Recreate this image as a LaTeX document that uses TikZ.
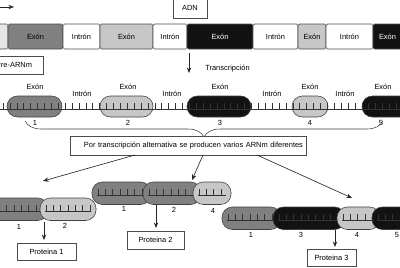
\documentclass[tikz,border=0pt]{standalone}
\usepackage{fontspec}
\setmainfont{Liberation Sans}
\usetikzlibrary{arrows.meta,decorations.pathreplacing,positioning}
\definecolor{exdark}{gray}{0.50}
\definecolor{exlight}{gray}{0.78}
\definecolor{expale}{gray}{0.90}
\definecolor{exblack}{gray}{0.07}

\begin{document}
\begin{tikzpicture}[
  x=0.25mm, y=-0.25mm,
  >={Stealth[length=1.4mm, width=1.1mm]},
  seg/.style  = {draw=black!70, line width=0.4pt, rounded corners=0.4mm},
  caps/.style = {draw=black!75, line width=0.4pt, rounded corners=2.6mm},
  tk/.style   = {black!80, line width=0.35pt},
  lbl/.style  = {font=\fontsize{5.3}{6}\selectfont, inner sep=0pt},
  tbox/.style = {draw=black!70, line width=0.4pt, fill=white, inner sep=0pt,
                 font=\fontsize{5.3}{6}\selectfont},
  arr/.style  = {->, line width=0.45pt, black!85},
]
\useasboundingbox (0,0) rectangle (400,267);
\clip (0,0) rectangle (400,267);

%% ---- ADN -----------------------------------------------------------------
\coordinate (inL) at (0,7);
\coordinate (inR) at (14,7);
\draw[arr] (inL) -- (inR);
\node[tbox, minimum width=8.5mm, minimum height=5mm] (adn) at (190,8) {ADN};
\foreach \a/\b/\c/\f/\t [count=\i] in {-10/8/expale/black/{}, 8/63/exdark/black/Exón,
    63/100/white/black/Intrón, 100/153/exlight/black/Exón, 153/187/white/black/Intrón,
    187/253/exblack/white/Exón, 253/298/white/black/Intrón, 298/326/exlight/black/Exón,
    326/373/white/black/Intrón, 373/402/exblack/white/Exón}
{
  \draw[seg, fill=\c] (\a,24) rectangle (\b,49);
  \node[lbl, text=\f] (dna\i) at ({(\a+\b)/2},36.5) {\t};
}

%% ---- pre-ARNm ------------------------------------------------------------
\node[tbox, minimum width=14.5mm, minimum height=4.5mm] (pre) at (14,65) {Pre-ARNm};
\coordinate (trA) at (189,53);
\coordinate (trB) at (189,73);
\draw[arr] (trA) -- (trB);
\node[lbl, anchor=west] (trlbl) at (205,69) {Transcripción};

\foreach \a/\b/\c in {7/62/exdark, 100/153/exlight, 187/251/exblack,
                      292/328/exlight, 362/420/exblack}
  \draw[caps, fill=\c] (\a,96) rectangle (\b,117);
\draw[tk] (0,109) -- (400,109);
\foreach \k in {0,...,57} \draw[tk] ({3+6.9*\k},103) -- ++(0,6);

\foreach \x/\y/\t [count=\i] in {35/87/Exón, 82/94/Intrón, 128/87/Exón, 172/94/Intrón,
    220/87/Exón, 272/94/Intrón, 310/87/Exón, 345/94/Intrón, 383/87/Exón}
  \node[lbl] (pl\i) at (\x,\y) {\t};
\foreach \x/\t [count=\i] in {35/1, 128/2, 220/3, 310/4, 381/5}
  \node[lbl] (pn\i) at (\x,123) {\t};

\coordinate (brL) at (25,121);
\coordinate (brR) at (383,121);
\draw[black!75, line width=0.4pt, decorate,
      decoration={brace, mirror, amplitude=4mm}] (brL) -- (brR);

%% ---- alternative splicing ------------------------------------------------
\node[tbox, minimum height=4.75mm, text width=57.5mm, align=right, inner xsep=0.75mm]
  (alt) at (188,145.5) {Por transcripción alternativa se producen varios ARNm diferentes};
\coordinate (alt1) at (135,155);
\coordinate (alt2) at (203,155);
\coordinate (alt3) at (257,155);
\coordinate (m1) at (43,181);
\coordinate (m2) at (192,180);
\coordinate (m3) at (352,198);
\draw[arr] (alt1) -- (m1);
\draw[arr] (alt2) -- (m2);
\draw[arr] (alt3) -- (m3);

% capsules: x1/x2/colour/top
\foreach \a/\b/\c/\y in {-14/48/exdark/198, 40/96/exlight/198,
    92/151/exdark/182, 143/201/exdark/182, 193/231/exlight/182,
    222/281/exdark/207, 273/345/exblack/207, 337/380/exlight/207, 372/420/exblack/207}
{
  \draw[caps, fill=\c] (\a,\y) rectangle (\b,\y+22.5);
  \pgfmathtruncatemacro\n{(\b-\a-12)/7.3}
  \draw[tk] (\a+5,\y+13) -- (\b-5,\y+13);
  \foreach \k in {0,...,\n} \draw[tk] ({\a+6+7.3*\k},\y+7) -- ++(0,6);
}

\foreach \x/\y/\t [count=\i] in {19/227/1, 65/226/2, 124/209/1, 174/210/2, 213/211/4,
    251/235/1, 301/235/3, 357/235/4, 397/235/5}
  \node[lbl] (bn\i) at (\x,\y) {\t};

%% ---- proteins ------------------------------------------------------------
\coordinate (p1a) at (44,222);
\coordinate (p1b) at (44,240);
\coordinate (p2a) at (156,205);
\coordinate (p2b) at (156,228);
\coordinate (p3a) at (335,230);
\coordinate (p3b) at (335,247);
\draw[arr] (p1a) -- (p1b);
\draw[arr] (p2a) -- (p2b);
\draw[arr] (p3a) -- (p3b);
\node[tbox, minimum width=14.75mm, minimum height=4.25mm] (prot1) at (46.5,251.5) {Proteina 1};
\node[tbox, minimum width=14.25mm, minimum height=4.5mm] (prot2) at (155.5,240) {Proteina 2};
\node[tbox, minimum width=12.25mm, minimum height=4.25mm] (prot3) at (331.5,257.5) {Proteina 3};

\end{tikzpicture}
\end{document}
